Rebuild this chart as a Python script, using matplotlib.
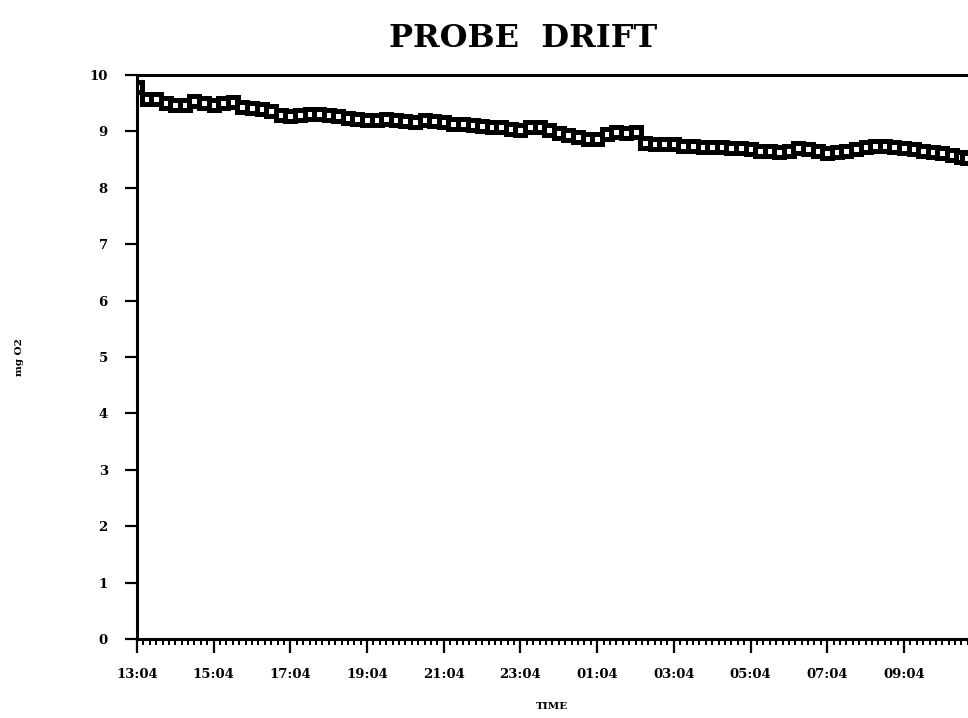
import matplotlib
matplotlib.use("Agg")
import matplotlib.pyplot as plt
from matplotlib.ticker import MultipleLocator, FixedLocator

# hours elapsed since 13:04
hours = [0.00, 0.25, 0.50, 0.75, 1.00, 1.25, 1.50, 1.75, 2.00, 2.25,
         2.50, 2.75, 3.00, 3.25, 3.50, 3.75, 4.00, 4.25, 4.50, 4.75,
         5.00, 5.25, 5.50, 5.75, 6.00, 6.25, 6.50, 6.75, 7.00, 7.25,
         7.50, 7.75, 8.00, 8.25, 8.50, 8.75, 9.00, 9.25, 9.50, 9.75,
         10.00, 10.25, 10.50, 10.75, 11.00, 11.25, 11.50, 11.75, 12.00, 12.25,
         12.50, 12.75, 13.00, 13.25, 13.50, 13.75, 14.00, 14.25, 14.50, 14.75,
         15.00, 15.25, 15.50, 15.75, 16.00, 16.25, 16.50, 16.75, 17.00, 17.25,
         17.50, 17.75, 18.00, 18.25, 18.50, 18.75, 19.00, 19.25, 19.50, 19.75,
         20.00, 20.25, 20.50, 20.75, 21.00, 21.25, 21.50, 21.65]
mg_o2 = [9.79, 9.58, 9.57, 9.50, 9.46, 9.47, 9.54, 9.50, 9.47, 9.50,
         9.53, 9.44, 9.42, 9.39, 9.36, 9.30, 9.28, 9.30, 9.31, 9.31,
         9.29, 9.27, 9.24, 9.22, 9.20, 9.21, 9.22, 9.20, 9.18, 9.17,
         9.20, 9.19, 9.17, 9.14, 9.13, 9.12, 9.10, 9.08, 9.07, 9.05,
         9.03, 9.07, 9.08, 9.02, 8.98, 8.94, 8.91, 8.87, 8.86, 8.95,
         8.99, 8.97, 8.99, 8.79, 8.78, 8.77, 8.78, 8.75, 8.74, 8.73,
         8.73, 8.72, 8.71, 8.70, 8.69, 8.66, 8.65, 8.64, 8.66, 8.70,
         8.69, 8.66, 8.62, 8.63, 8.66, 8.69, 8.73, 8.75, 8.74, 8.72,
         8.70, 8.68, 8.66, 8.64, 8.62, 8.58, 8.55, 8.53]

tick_hours = [0, 2, 4, 6, 8, 10, 12, 14, 16, 18, 20]
tick_labels = ["13:04", "15:04", "17:04", "19:04", "21:04", "23:04",
               "01:04", "03:04", "05:04", "07:04", "09:04"]
y_ticks = [0, 1, 2, 3, 4, 5, 6, 7, 8, 9, 10]

fig = plt.figure(figsize=(9.68, 7.18), dpi=100)
ax = fig.add_axes([0.1415, 0.110, 0.8585, 0.7855])

ax.plot(hours, mg_o2, color="black", linewidth=4,
        marker="s", markersize=6.5, markerfacecolor="white",
        markeredgecolor="black", markeredgewidth=3.6)

ax.set_xlim(0, 21.67)
ax.set_ylim(0, 10)
ax.xaxis.set_major_locator(FixedLocator(tick_hours))
ax.xaxis.set_minor_locator(MultipleLocator(1 / 6))
ax.set_xticklabels(tick_labels)
ax.set_yticks(y_ticks)

for s in ["left", "bottom", "top"]:
    ax.spines[s].set_linewidth(2.2)
ax.spines["right"].set_visible(False)

ax.tick_params(axis="x", which="major", direction="out", length=10, width=1.6, pad=11)
ax.tick_params(axis="x", which="minor", direction="out", length=4, width=1.4)
ax.tick_params(axis="y", which="major", direction="out", length=9, width=1.6, pad=12)
for lab in ax.get_xticklabels() + ax.get_yticklabels():
    lab.set_fontfamily("DejaVu Serif")
    lab.set_fontweight("bold")
    lab.set_fontsize(9.5)

ax.set_xlabel("TIME", fontfamily="DejaVu Serif", fontweight="bold", fontsize=7.5, labelpad=15)
ax.set_ylabel("mg O2", fontfamily="DejaVu Serif", fontweight="bold", fontsize=7.5, labelpad=47)
ax.set_title("PROBE  DRIFT", fontfamily="DejaVu Serif", fontweight="bold",
             fontsize=23, pad=20)
ax.title.set_position((0.4645, 1.0))

fig.savefig("out.png", dpi=100)
